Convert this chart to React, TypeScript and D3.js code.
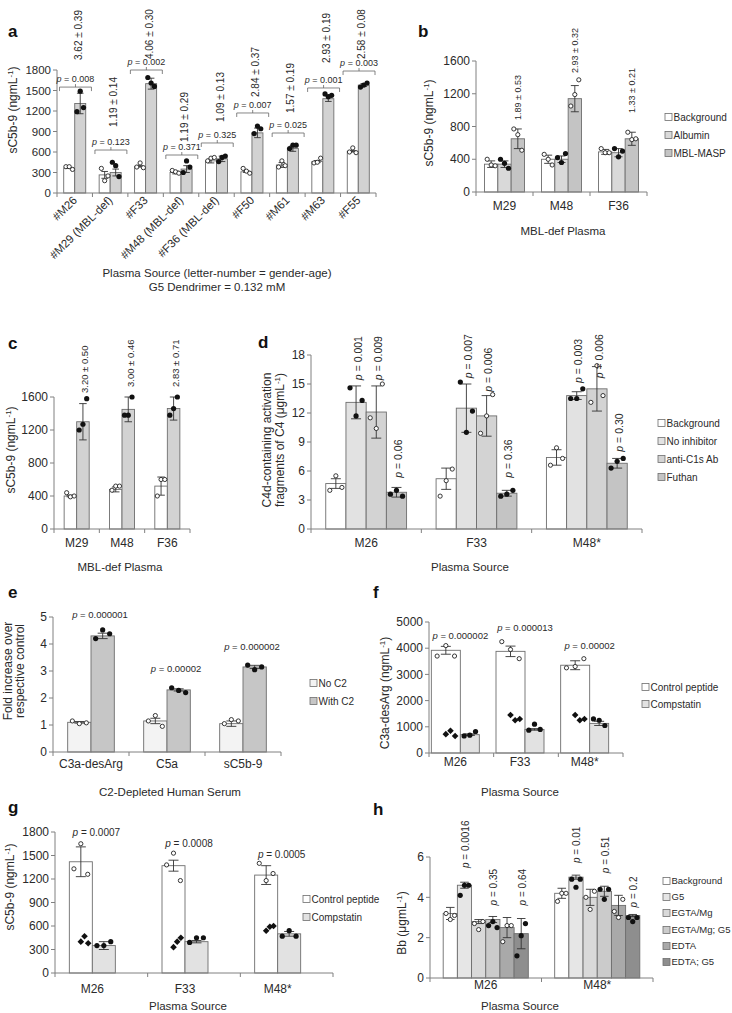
import React from "react";
import * as d3 from "d3";

const FONT = "'Liberation Sans', Arial, Helvetica, sans-serif";
const TXT = "#2a2a2a";
const AXIS = "#808080";
const BAR_STROKE = "#6e6e6e";

// ---------------- Panel a ----------------
const aCategories = ["#M26", "#M29 (MBL-def)", "#F33", "#M48 (MBL-def)", "#F36 (MBL-def)", "#F50", "#M61", "#M63", "#F55"];
const aBackground = [365, 265, 390, 300, 470, 310, 410, 460, 610];
const aBackgroundErr = [5, 50, 10, 20, 30, 10, 35, 15, 10];
const aBackgroundPts = [[385, 385, 345], [360, 180, 250], [380, 440, 370], [330, 310, 290], [470, 510, 520], [360, 320, 290], [380, 470, 400], [440, 450, 510], [600, 660, 590]];
const aG5 = [1310, 300, 1600, 350, 500, 880, 650, 1380, 1580];
const aG5Err = [150, 50, 80, 50, 40, 70, 40, 40, 20];
const aG5Pts = [[1190, 1490, 1250], [450, 400, 240], [1690, 1610, 1560], [300, 470, 380], [460, 520, 540], [870, 980, 940], [650, 700, 700], [1450, 1410, 1430], [1550, 1580, 1610]];
const aPvals = ["0.008", "0.123", "0.002", "0.371", "0.325", "0.007", "0.025", "0.001", "0.003"];
const aRatios = ["3.62 ± 0.39", "1.19 ± 0.14", "4.06 ± 0.30", "1.19 ± 0.29", "1.09 ± 0.13", "2.84 ± 0.37", "1.57 ± 0.19", "2.93 ± 0.19", "2.58 ± 0.08"];
const aBracketLevel = [1550, 629, 1800, 556, 732, 1171, 878, 1537, 1785];
const aRatioLevel = [1946, 966, 1960, 746, 1039, 1405, 1171, 1903, 1960];

// ---------------- Panel b ----------------
const bCategories = ["M29", "M48", "F36"];
const bBackground = [340, 400, 490];
const bBackgroundErr = [40, 50, 30];
const bBackgroundPts = [[400, 330, 320], [460, 400, 330], [530, 480, 480]];
const bAlbumin = [340, 400, 480];
const bAlbuminErr = [40, 40, 50];
const bAlbuminPts = [[400, 350, 290], [420, 360, 470], [530, 430, 500]];
const bMblMasp = [650, 1140, 650];
const bMblMaspErr = [120, 160, 80];
const bMblMaspPts = [[770, 700, 510], [1050, 1190, 1370], [730, 640, 650]];
const bRatios = ["1.89 ± 0.53", "2.93 ± 0.32", "1.33 ± 0.21"];
const bRatioLevel = [879, 1453, 965];

// ---------------- Panel c ----------------
const cCategories = ["M29", "M48", "F36"];
const cBackground = [400, 480, 520];
const cBackgroundErr = [10, 30, 110];
const cBackgroundPts = [[440, 390, 400], [470, 520, 520], [400, 600, 600]];
const cG5 = [1300, 1450, 1460];
const cG5Err = [220, 150, 140];
const cG5Pts = [[1200, 1270, 1580], [1380, 1380, 1600], [1380, 1460, 1600]];
const cRatios = ["3.20 ± 0.50", "3.00 ± 0.46", "2.83 ± 0.71"];
const cRatioLevel = [1648, 1721, 1721];

// ---------------- Panel d ----------------
const dCategories = ["M26", "F33", "M48*"];
const dBackground = [4.7, 5.2, 7.4];
const dBackgroundErr = [0.5, 1.1, 0.8];
const dBackgroundPts = [[4.0, 5.5, 4.3], [3.4, 5.0, 6.2], [6.6, 8.4, 7.3]];
const dNoInhibitor = [13.1, 12.5, 13.8];
const dNoInhibitorErr = [1.7, 2.5, 0.4];
const dNoInhibitorPts = [[14.6, 11.7, 13.3], [15.2, 10.0, 12.2], [13.5, 13.5, 14.5]];
const dAntiC1s = [12.1, 11.7, 14.5];
const dAntiC1sErr = [2.7, 2.1, 2.3];
const dAntiC1sPts = [[11.5, 10.4, 15.0], [9.9, 11.7, 13.9], [13.1, 16.9, 13.8]];
const dFuthan = [3.8, 3.7, 6.8];
const dFuthanErr = [0.5, 0.3, 0.5];
const dFuthanPts = [[3.6, 4.0, 3.4], [3.4, 3.6, 4.0], [6.3, 7.0, 7.3]];
const dPvalsNoInhibitor = ["0.001", "0.007", "0.003"];
const dPvalsAntiC1s = ["0.009", "0.006", "0.006"];
const dPvalsFuthan = ["0.06", "0.36", "0.30"];
const dLevelNoInhibitor = [15.4, 15.6, 15.1];
const dLevelAntiC1s = [15.4, 14.2, 15.6];
const dLevelFuthan = [5.3, 5.3, 8.0];

// ---------------- Panel e ----------------
const eCategories = ["C3a-desArg", "C5a", "sC5b-9"];
const eNoC2 = [1.1, 1.15, 1.05];
const eNoC2Err = [0.03, 0.1, 0.1];
const eNoC2Pts = [[1.15, 1.05, 1.08], [1.15, 1.35, 0.95], [1.05, 1.2, 1.15]];
const eWithC2 = [4.3, 2.3, 3.15];
const eWithC2Err = [0.1, 0.04, 0.06];
const eWithC2Pts = [[4.2, 4.52, 4.38], [2.38, 2.28, 2.2], [3.22, 3.05, 3.15]];
const ePvals = ["0.000001", "0.00002", "0.000002"];
const ePLevel = [4.97, 2.98, 3.79];

// ---------------- Panel f ----------------
const fCategories = ["M26", "F33", "M48*"];
const fControl = [3920, 3880, 3350];
const fControlErr = [150, 200, 170];
const fControlPts = [[3700, 4100, 3700], [4250, 3950, 3600], [3250, 3300, 3600]];
const fControlDiamonds = [[720, 850, 650], [1450, 1250, 1300], [1450, 1250, 1300]];
const fCompstatin = [700, 900, 1130];
const fCompstatinErr = [30, 30, 80];
const fCompstatinPts = [[650, 680, 820], [870, 1100, 900], [1300, 1250, 1050]];
const fPvals = ["0.000002", "0.000013", "0.00002"];
const fPLevel = [4351, 4657, 3970];

// ---------------- Panel g ----------------
const gCategories = ["M26", "F33", "M48*"];
const gControl = [1420, 1370, 1250];
const gControlErr = [190, 70, 120];
const gControlPts = [[1330, 1650, 1260], [1380, 1530, 1180], [1400, 1180, 1270]];
const gControlDiamonds = [[400, 470, 380], [330, 400, 450], [540, 590, 600]];
const gCompstatin = [350, 400, 500];
const gCompstatinErr = [50, 15, 30];
const gCompstatinPts = [[350, 350, 400], [390, 450, 450], [470, 540, 470]];
const gPvals = ["0.0007", "0.0008", "0.0005"];
const gPLevel = [1749, 1609, 1468];

// ---------------- Panel h ----------------
const hCategories = ["M26", "M48*"];
const hBackground = [3.2, 4.2];
const hBackgroundErr = [0.3, 0.25];
const hBackgroundPts = [[3.2, 2.9, 3.1], [3.8, 4.2, 4.2]];
const hG5 = [4.6, 5.0];
const hG5Err = [0.15, 0.1];
const hG5Pts = [[4.1, 4.6, 4.6], [4.9, 4.5, 4.9]];
const hEgta = [2.8, 4.0];
const hEgtaErr = [0.1, 0.4];
const hEgtaPts = [[2.7, 2.4, 2.8], [4.0, 3.4, 4.3]];
const hEgtaG5 = [2.9, 4.3];
const hEgtaG5Err = [0.15, 0.25];
const hEgtaG5Pts = [[2.6, 2.8, 2.5], [4.4, 3.9, 4.4]];
const hEdta = [2.5, 3.6];
const hEdtaErr = [0.5, 0.5];
const hEdtaPts = [[1.8, 2.6, 2.6], [3.3, 3.0, 3.9]];
const hEdtaG5 = [2.2, 3.1];
const hEdtaG5Err = [0.75, 0.05];
const hEdtaG5Pts = [[1.1, 2.1, 2.7], [3.0, 2.8, 3.0]];
const hPvalsG5 = ["0.0016", "0.01"];
const hPvalsEgtaG5 = ["0.35", "0.51"];
const hPvalsEdtaG5 = ["0.64", "0.2"];
const hLevelG5 = [5.45, 5.7];
const hLevelEgtaG5 = [3.6, 5.2];
const hLevelEdtaG5 = [3.6, 3.5];

// ---------------- generic machinery ----------------
type Marker = "open" | "filled";
interface Series {
  name: string;
  fill: string;
  values: number[];
  errs: number[];
  pts: number[][];
  marker: Marker;
  diamonds?: number[][];
}
interface PanelDef {
  cats: string[];
  series: Series[];
  x0: number;
  x1: number;
  yBottom: number;
  yTop: number;
  yMax: number;
  yStep: number;
  padOuter?: number;
  widths?: number[];
  shift?: number;
  tickFont?: number;
  catLabelY?: number;
}

function geometry(p: PanelDef) {
  const xb = d3.scaleBand<string>().domain(p.cats).range([p.x0, p.x1]).paddingInner(0).paddingOuter(0);
  const y = d3.scaleLinear().domain([0, p.yMax]).range([p.yBottom, p.yTop]);
  const bw = xb.bandwidth();
  const names = p.series.map((s) => s.name);
  const inner = d3.scaleBand<string>().domain(names).range([0, bw]).paddingInner(0).paddingOuter(p.padOuter ?? 0.6);
  const bar = (ci: number, si: number) => {
    const cx = xb(p.cats[ci])!;
    if (p.widths) {
      const W = d3.sum(p.widths);
      const left = cx + bw / 2 + (p.shift ?? 0) - W / 2;
      return { x: left + d3.sum(p.widths.slice(0, si)), w: p.widths[si] };
    }
    return { x: cx + inner(names[si])!, w: inner.bandwidth() };
  };
  const groupCenter = (ci: number) => {
    const a = bar(ci, 0);
    const b = bar(ci, p.series.length - 1);
    return (a.x + b.x + b.w) / 2;
  };
  return { xb, y, bw, bar, groupCenter };
}

const dotOffsets = (n: number) => d3.range(n).map((i) => (n === 1 ? 0 : -0.3 + (0.6 * i) / (n - 1)));
const diamondOffsets = [0.0, 0.16, 0.32];

function BarPanel({ p }: { p: PanelDef }) {
  const g = geometry(p);
  const ticks = d3.range(0, p.yMax + p.yStep / 2, p.yStep);
  const fs = p.tickFont ?? 12;
  const bounds = [...p.cats.map((c) => g.xb(c)!), p.x1];
  const y0 = g.y(0);
  return (
    <g>
      {p.series.map((s, si) =>
        p.cats.map((c, ci) => {
          const b = g.bar(ci, si);
          const v = s.values[ci];
          return (
            <rect key={`r${si}-${ci}`} x={b.x} y={g.y(v)} width={b.w} height={y0 - g.y(v)} fill={s.fill} stroke={BAR_STROKE} strokeWidth={0.9} />
          );
        })
      )}
      <line x1={p.x0} x2={p.x0} y1={y0} y2={g.y(p.yMax)} stroke={AXIS} strokeWidth={1} />
      <line x1={p.x0} x2={p.x1} y1={y0} y2={y0} stroke={AXIS} strokeWidth={1} />
      {ticks.map((t) => (
        <g key={`t${t}`}>
          <line x1={p.x0 - 4} x2={p.x0} y1={g.y(t)} y2={g.y(t)} stroke={AXIS} />
          <text x={p.x0 - 6} y={g.y(t)} dy="0.35em" textAnchor="end" fontSize={fs} fill={TXT}>
            {t}
          </text>
        </g>
      ))}
      {bounds.map((bx, i) => (
        <line key={`xb${i}`} x1={bx} x2={bx} y1={y0} y2={y0 + 4} stroke={AXIS} />
      ))}
      {p.series.map((s, si) =>
        p.cats.map((c, ci) => {
          const b = g.bar(ci, si);
          const cx = b.x + b.w / 2;
          const v = s.values[ci];
          const e = s.errs[ci];
          const cap = Math.min(5, b.w * 0.3);
          return (
            <path
              key={`e${si}-${ci}`}
              d={`M${cx},${g.y(v - e)}V${g.y(v + e)}M${cx - cap},${g.y(v + e)}H${cx + cap}M${cx - cap},${g.y(v - e)}H${cx + cap}`}
              stroke="#333"
              strokeWidth={0.9}
              fill="none"
            />
          );
        })
      )}
      {p.series.map((s, si) =>
        p.cats.map((c, ci) => {
          const b = g.bar(ci, si);
          const cx = b.x + b.w / 2;
          const pts = s.pts[ci];
          const offs = dotOffsets(pts.length);
          const dia = s.diamonds ? s.diamonds[ci] : [];
          return (
            <g key={`d${si}-${ci}`}>
              {pts.map((v, k) =>
                s.marker === "open" ? (
                  <circle key={k} cx={cx + offs[k] * b.w} cy={g.y(v)} r={2.1} fill="#fff" stroke="#222" strokeWidth={0.9} />
                ) : (
                  <circle key={k} cx={cx + offs[k] * b.w} cy={g.y(v)} r={2.6} fill="#111" />
                )
              )}
              {dia.map((v, k) => {
                const dx = cx + diamondOffsets[k] * b.w;
                const dy = g.y(v);
                const r = 3.3;
                return <path key={`dm${k}`} d={`M${dx},${dy - r}L${dx + r},${dy}L${dx},${dy + r}L${dx - r},${dy}Z`} fill="#111" />;
              })}
            </g>
          );
        })
      )}
      {p.catLabelY !== undefined &&
        p.cats.map((c, ci) => (
          <text key={`cl${ci}`} x={g.groupCenter(ci)} y={p.catLabelY} textAnchor="middle" fontSize={12} fill={TXT}>
            {c}
          </text>
        ))}
    </g>
  );
}

function Legend({ x, ys, items, fs = 10 }: { x: number; ys: number[]; items: { name: string; fill: string }[]; fs?: number }) {
  return (
    <g>
      {items.map((it, i) => (
        <g key={it.name}>
          <rect x={x} y={ys[i] - 3.5} width={7} height={7} fill={it.fill} stroke={BAR_STROKE} strokeWidth={0.8} />
          <text x={x + 8.5} y={ys[i]} dy="0.35em" fontSize={fs} fill={TXT}>
            {it.name}
          </text>
        </g>
      ))}
    </g>
  );
}

function VText({ x, y, fs, children, anchor = "start" }: { x: number; y: number; fs: number; children: React.ReactNode; anchor?: string }) {
  return (
    <text transform={`translate(${x},${y}) rotate(-90)`} dy="0.35em" fontSize={fs} fill={TXT} textAnchor={anchor as any}>
      {children}
    </text>
  );
}

const P = ({ v }: { v: string }) => (
  <>
    <tspan fontStyle="italic">p</tspan> = {v}
  </>
);

const Unit = ({ pre, unit }: { pre: string; unit: string }) => (
  <>
    {pre} ({unit}
    <tspan dy={-4} fontSize={8}>
      -1
    </tspan>
    <tspan dy={4}>)</tspan>
  </>
);

function Letter({ x, y, t }: { x: number; y: number; t: string }) {
  return (
    <text x={x} y={y} fontSize={17} fontWeight="bold" fill="#111">
      {t}
    </text>
  );
}

// --------------- panel definitions ---------------
const WHITE = "#ffffff";

const panelA: PanelDef = {
  cats: aCategories,
  series: [
    { name: "Background", fill: WHITE, values: aBackground, errs: aBackgroundErr, pts: aBackgroundPts, marker: "open" },
    { name: "G5", fill: "#d2d2d2", values: aG5, errs: aG5Err, pts: aG5Pts, marker: "filled" },
  ],
  x0: 57, x1: 376, yBottom: 193, yTop: 70, yMax: 1800, yStep: 300, padOuter: 0.61, tickFont: 11.5,
};

const panelB: PanelDef = {
  cats: bCategories,
  series: [
    { name: "Background", fill: WHITE, values: bBackground, errs: bBackgroundErr, pts: bBackgroundPts, marker: "open" },
    { name: "Albumin", fill: "#d9d9d9", values: bAlbumin, errs: bAlbuminErr, pts: bAlbuminPts, marker: "filled" },
    { name: "MBL-MASP", fill: "#c4c4c4", values: bMblMasp, errs: bMblMaspErr, pts: bMblMaspPts, marker: "open" },
  ],
  x0: 476, x1: 647, yBottom: 192, yTop: 61, yMax: 1600, yStep: 400, padOuter: 0.64, catLabelY: 210,
};

const panelC: PanelDef = {
  cats: cCategories,
  series: [
    { name: "Background", fill: WHITE, values: cBackground, errs: cBackgroundErr, pts: cBackgroundPts, marker: "open" },
    { name: "G5", fill: "#d2d2d2", values: cG5, errs: cG5Err, pts: cG5Pts, marker: "filled" },
  ],
  x0: 54, x1: 190, yBottom: 529, yTop: 397, yMax: 1600, yStep: 400, padOuter: 0.81, catLabelY: 547,
};

const panelD: PanelDef = {
  cats: dCategories,
  series: [
    { name: "Background", fill: WHITE, values: dBackground, errs: dBackgroundErr, pts: dBackgroundPts, marker: "open" },
    { name: "No inhibitor", fill: "#e2e2e2", values: dNoInhibitor, errs: dNoInhibitorErr, pts: dNoInhibitorPts, marker: "filled" },
    { name: "anti-C1s Ab", fill: "#d3d3d3", values: dAntiC1s, errs: dAntiC1sErr, pts: dAntiC1sPts, marker: "open" },
    { name: "Futhan", fill: "#c4c4c4", values: dFuthan, errs: dFuthanErr, pts: dFuthanPts, marker: "filled" },
  ],
  x0: 311, x1: 642, yBottom: 529, yTop: 355, yMax: 18, yStep: 3, padOuter: 0.73, catLabelY: 547,
};

const panelE: PanelDef = {
  cats: eCategories,
  series: [
    { name: "No C2", fill: "#f3f3f3", values: eNoC2, errs: eNoC2Err, pts: eNoC2Pts, marker: "open" },
    { name: "With C2", fill: "#c6c6c6", values: eWithC2, errs: eWithC2Err, pts: eWithC2Pts, marker: "filled" },
  ],
  x0: 53, x1: 281, yBottom: 752, yTop: 617, yMax: 5, yStep: 1, padOuter: 0.63, catLabelY: 768,
};

const panelF: PanelDef = {
  cats: fCategories,
  series: [
    { name: "Control peptide", fill: WHITE, values: fControl, errs: fControlErr, pts: fControlPts, marker: "open", diamonds: fControlDiamonds },
    { name: "Compstatin", fill: "#e2e2e2", values: fCompstatin, errs: fCompstatinErr, pts: fCompstatinPts, marker: "filled" },
  ],
  x0: 429, x1: 623, yBottom: 753, yTop: 622, yMax: 5000, yStep: 1000, widths: [29, 19], shift: -6, catLabelY: 766,
};

const panelG: PanelDef = {
  cats: gCategories,
  series: [
    { name: "Control peptide", fill: WHITE, values: gControl, errs: gControlErr, pts: gControlPts, marker: "open", diamonds: gControlDiamonds },
    { name: "Compstatin", fill: "#e2e2e2", values: gCompstatin, errs: gCompstatinErr, pts: gCompstatinPts, marker: "filled" },
  ],
  x0: 55, x1: 333, yBottom: 973, yTop: 832, yMax: 1800, yStep: 300, widths: [23, 23], shift: -9, catLabelY: 993,
};

const panelH: PanelDef = {
  cats: hCategories,
  series: [
    { name: "Background", fill: WHITE, values: hBackground, errs: hBackgroundErr, pts: hBackgroundPts, marker: "open" },
    { name: "G5", fill: "#e6e6e6", values: hG5, errs: hG5Err, pts: hG5Pts, marker: "filled" },
    { name: "EGTA/Mg", fill: "#d9d9d9", values: hEgta, errs: hEgtaErr, pts: hEgtaPts, marker: "open" },
    { name: "EGTA/Mg; G5", fill: "#cbcbcb", values: hEgtaG5, errs: hEgtaG5Err, pts: hEgtaG5Pts, marker: "filled" },
    { name: "EDTA", fill: "#a9a9a9", values: hEdta, errs: hEdtaErr, pts: hEdtaPts, marker: "open" },
    { name: "EDTA; G5", fill: "#8e8e8e", values: hEdtaG5, errs: hEdtaG5Err, pts: hEdtaG5Pts, marker: "filled" },
  ],
  x0: 430, x1: 653, yBottom: 978, yTop: 857, yMax: 6, yStep: 2, padOuter: 0.93, catLabelY: 989,
};

// --------------- panels with annotations ---------------
function PanelA() {
  const g = geometry(panelA);
  return (
    <g>
      <Letter x={8} y={37} t="a" />
      <BarPanel p={panelA} />
      {aCategories.map((c, i) => {
        const xs = g.xb(c)! + 2.5;
        const xe = g.xb(c)! + g.bw - 1;
        const yb = g.y(aBracketLevel[i]);
        const cx = (xs + xe) / 2;
        const gb = g.bar(i, 1);
        return (
          <g key={c}>
            <path d={`M${xs},${yb + 4}V${yb}H${xe}V${yb + 4}M${cx},${yb}V${yb - 3}`} fill="none" stroke="#666" strokeWidth={0.8} />
            <text x={cx} y={yb - 5} textAnchor="middle" fontSize={9} fill={TXT}>
              <P v={aPvals[i]} />
            </text>
            <VText x={gb.x + gb.w / 2 - 2} y={g.y(aRatioLevel[i])} fs={10}>
              {aRatios[i]}
            </VText>
            <text transform={`translate(${g.xb(c)! + g.bw / 2 + 3},${201}) rotate(-45)`} textAnchor="end" fontSize={11.5} fill={TXT}>
              {c}
            </text>
          </g>
        );
      })}
      <VText x={13} y={110} fs={12} anchor="middle">
        <Unit pre="sC5b-9" unit="ngmL" />
      </VText>
      <text x={217} y={277} textAnchor="middle" fontSize={11.5} fill={TXT}>
        Plasma Source (letter-number = gender-age)
      </text>
      <text x={217} y={291} textAnchor="middle" fontSize={11.5} fill={TXT}>
        G5 Dendrimer = 0.132 mM
      </text>
    </g>
  );
}

function PanelB() {
  const g = geometry(panelB);
  return (
    <g>
      <Letter x={418} y={37} t="b" />
      <BarPanel p={panelB} />
      {bCategories.map((c, i) => {
        const b = g.bar(i, 2);
        return (
          <VText key={c} x={b.x + b.w / 2} y={g.y(bRatioLevel[i])} fs={9}>
            {bRatios[i]}
          </VText>
        );
      })}
      <VText x={429} y={123} fs={12} anchor="middle">
        <Unit pre="sC5b-9" unit="ngmL" />
      </VText>
      <text x={563} y={235} textAnchor="middle" fontSize={11.5} fill={TXT}>
        MBL-def Plasma
      </text>
      <Legend x={665} ys={[117, 135, 153]} items={panelB.series} />
    </g>
  );
}

function PanelC() {
  const g = geometry(panelC);
  return (
    <g>
      <Letter x={8} y={349} t="c" />
      <BarPanel p={panelC} />
      {cCategories.map((c, i) => {
        const b = g.bar(i, 1);
        return (
          <VText key={c} x={b.x + b.w / 2 + 2} y={g.y(cRatioLevel[i])} fs={9.5}>
            {cRatios[i]}
          </VText>
        );
      })}
      <VText x={11} y={450} fs={12} anchor="middle">
        <Unit pre="sC5b-9" unit="ngmL" />
      </VText>
      <text x={120} y={571} textAnchor="middle" fontSize={11.5} fill={TXT}>
        MBL-def Plasma
      </text>
    </g>
  );
}

function PanelD() {
  const g = geometry(panelD);
  const sets: [number, string[], number[]][] = [
    [1, dPvalsNoInhibitor, dLevelNoInhibitor],
    [2, dPvalsAntiC1s, dLevelAntiC1s],
    [3, dPvalsFuthan, dLevelFuthan],
  ];
  return (
    <g>
      <Letter x={258} y={348} t="d" />
      <BarPanel p={panelD} />
      {sets.map(([si, pv, lv]) =>
        dCategories.map((c, i) => {
          const b = g.bar(i, si);
          return (
            <VText key={`${si}-${c}`} x={b.x + b.w / 2 + 2} y={g.y(lv[i])} fs={10.5}>
              <P v={pv[i]} />
            </VText>
          );
        })
      )}
      <VText x={267} y={440} fs={12} anchor="middle">
        C4d-containing activation
      </VText>
      <VText x={280} y={440} fs={12} anchor="middle">
        <Unit pre="fragments of C4" unit="μgmL" />
      </VText>
      <text x={470} y={571} textAnchor="middle" fontSize={11.5} fill={TXT}>
        Plasma Source
      </text>
      <Legend x={658} ys={[423, 441, 459, 477]} items={panelD.series} />
    </g>
  );
}

function PanelE() {
  const g = geometry(panelE);
  return (
    <g>
      <Letter x={8} y={598} t="e" />
      <BarPanel p={panelE} />
      {eCategories.map((c, i) => (
        <text key={c} x={g.groupCenter(i) + 9} y={g.y(ePLevel[i])} textAnchor="middle" fontSize={9.5} fill={TXT}>
          <P v={ePvals[i]} />
        </text>
      ))}
      <VText x={8} y={671} fs={12} anchor="middle">
        Fold increase over
      </VText>
      <VText x={20} y={671} fs={12} anchor="middle">
        respective control
      </VText>
      <text x={170} y={796} textAnchor="middle" fontSize={11.5} fill={TXT}>
        C2-Depleted Human Serum
      </text>
      <Legend x={310} ys={[683, 701]} items={panelE.series} />
    </g>
  );
}

function PanelF() {
  const g = geometry(panelF);
  return (
    <g>
      <Letter x={373} y={598} t="f" />
      <BarPanel p={panelF} />
      {fCategories.map((c, i) => (
        <text key={c} x={g.groupCenter(i) + 5} y={g.y(fPLevel[i])} textAnchor="middle" fontSize={9.5} fill={TXT}>
          <P v={fPvals[i]} />
        </text>
      ))}
      <VText x={385} y={693} fs={12} anchor="middle">
        <Unit pre="C3a-desArg" unit="ngmL" />
      </VText>
      <text x={520} y={796} textAnchor="middle" fontSize={11.5} fill={TXT}>
        Plasma Source
      </text>
      <Legend x={642} ys={[687, 704]} items={panelF.series} />
    </g>
  );
}

function PanelG() {
  const g = geometry(panelG);
  return (
    <g>
      <Letter x={8} y={813} t="g" />
      <BarPanel p={panelG} />
      {gCategories.map((c, i) => (
        <text key={c} x={g.groupCenter(i) + 4} y={g.y(gPLevel[i])} textAnchor="middle" fontSize={10} fill={TXT}>
          <P v={gPvals[i]} />
        </text>
      ))}
      <VText x={10} y={887} fs={12} anchor="middle">
        <Unit pre="sC5b-9" unit="ngmL" />
      </VText>
      <text x={188} y={1010} textAnchor="middle" fontSize={11.5} fill={TXT}>
        Plasma Source
      </text>
      <Legend x={303} ys={[899, 917]} items={panelG.series} />
    </g>
  );
}

function PanelH() {
  const g = geometry(panelH);
  const sets: [number, string[], number[]][] = [
    [1, hPvalsG5, hLevelG5],
    [3, hPvalsEgtaG5, hLevelEgtaG5],
    [5, hPvalsEdtaG5, hLevelEdtaG5],
  ];
  return (
    <g>
      <Letter x={373} y={815} t="h" />
      <BarPanel p={panelH} />
      {sets.map(([si, pv, lv]) =>
        hCategories.map((c, i) => {
          const b = g.bar(i, si);
          return (
            <VText key={`${si}-${c}`} x={b.x + b.w / 2 + 1} y={g.y(lv[i])} fs={10}>
              <P v={pv[i]} />
            </VText>
          );
        })
      )}
      <VText x={402} y={923} fs={12} anchor="middle">
        <Unit pre="Bb" unit="μgmL" />
      </VText>
      <text x={520} y={1010} textAnchor="middle" fontSize={11.5} fill={TXT}>
        Plasma Source
      </text>
      <Legend x={663} ys={[881, 897, 913, 930, 946, 962]} items={panelH.series} fs={9.5} />
    </g>
  );
}

export default function App() {
  return (
    <svg
      width={732}
      height={1013}
      viewBox="0 0 732 1013"
      style={{ position: "absolute", left: 0, top: 0, display: "block", background: "#fff" }}
      fontFamily={FONT}
    >
      <rect x={0} y={0} width={732} height={1013} fill="#fff" />
      <PanelA />
      <PanelB />
      <PanelC />
      <PanelD />
      <PanelE />
      <PanelF />
      <PanelG />
      <PanelH />
    </svg>
  );
}
